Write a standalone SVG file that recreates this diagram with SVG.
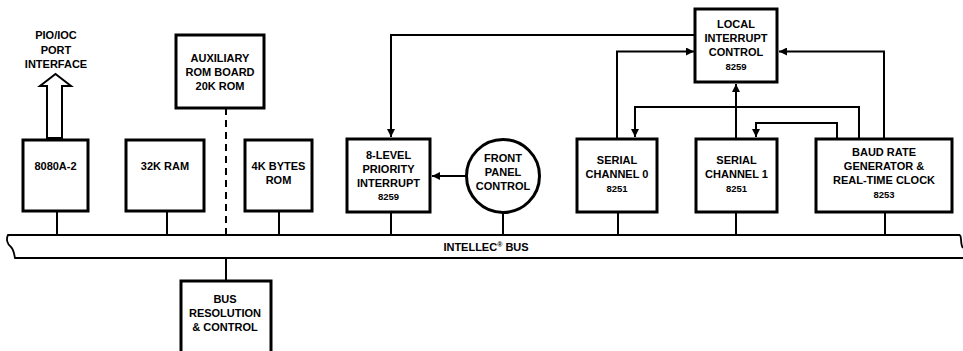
<svg xmlns="http://www.w3.org/2000/svg" width="963" height="351" viewBox="0 0 963 351">
<defs>
<style>
.box{fill:#fff;stroke:#000;stroke-width:3}
.ln{fill:none;stroke:#000;stroke-width:2}
.bus{fill:none;stroke:#000;stroke-width:1.8}
.t{font-family:"Liberation Sans",Arial,sans-serif;font-weight:bold;font-size:11px;text-anchor:middle;fill:#000}
.n{font-size:9.5px}
</style>
<marker id="ah" viewBox="0 0 10 10" refX="10" refY="5" markerWidth="4" markerHeight="4" orient="auto" markerUnits="strokeWidth">
<path d="M0,0 L10,5 L0,10 z" fill="#000"/>
</marker>
</defs>
<rect width="963" height="351" fill="#fff"/>

<g id="bus">
<path class="bus" d="M960,235 H8 C6,239 7,244 11,247 C14,250 14,254 15,258 H963"/>
<path class="bus" d="M960,235 C962,238 960,244 963,248"/>
<text class="t" x="486" y="251">INTELLEC<tspan font-size="7" dy="-4">®</tspan><tspan dy="4"> BUS</tspan></text>
</g>

<g id="connectors">
<path class="ln" d="M695,35 H391 V137" marker-end="url(#ah)"/>
<path class="ln" d="M467,176 H432" marker-end="url(#ah)"/>
<path class="ln" d="M617,139 V51.5 H694" marker-end="url(#ah)"/>
<path class="ln" d="M859,139 V107 H635 V137" marker-end="url(#ah)"/>
<path class="ln" d="M736,139 V84" marker-end="url(#ah)"/>
<path class="ln" d="M837,139 V123 H756 V137" marker-end="url(#ah)"/>
<path class="ln" d="M884,139 V51.5 H779" marker-end="url(#ah)"/>
<path class="ln" d="M226,108 V235" stroke-dasharray="7,5"/>
<path class="ln" d="M226,258 V281"/>
<path class="ln" d="M57,211 V235 M167,211 V235 M279,211 V235 M391,212 V235 M503,212 V235 M618,212 V235 M736,212 V235 M885,212 V235"/>
<polygon points="47,138 47,86 40,86 55.5,74 71,86 62,86 62,138" fill="#fff" stroke="#000" stroke-width="2"/>
</g>

<g id="pio-label">
<text class="t" x="56" y="39">PIO/IOC</text>
<text class="t" x="56" y="54">PORT</text>
<text class="t" x="56" y="68">INTERFACE</text>
</g>

<g id="cpu">
<rect class="box" x="23" y="140" width="65" height="71"/>
<text class="t" x="55.5" y="170">8080A-2</text>
</g>

<g id="ram">
<rect class="box" x="126" y="140" width="78" height="71"/>
<text class="t" x="165" y="170">32K RAM</text>
</g>

<g id="aux-rom">
<rect class="box" x="176" y="35" width="88" height="73"/>
<text class="t" x="220" y="62">AUXILIARY</text>
<text class="t" x="220" y="76">ROM BOARD</text>
<text class="t" x="220" y="90">20K ROM</text>
</g>

<g id="rom">
<rect class="box" x="245" y="140" width="67" height="71"/>
<text class="t" x="278.5" y="170">4K BYTES</text>
<text class="t" x="278.5" y="184">ROM</text>
</g>

<g id="bus-res">
<rect class="box" x="181" y="281" width="90" height="80"/>
<text class="t" x="225" y="303">BUS</text>
<text class="t" x="225" y="317">RESOLUTION</text>
<text class="t" x="225" y="331">&amp; CONTROL</text>
</g>

<g id="pic8">
<rect class="box" x="347" y="139" width="83" height="73"/>
<text class="t" x="388.5" y="159">8-LEVEL</text>
<text class="t" x="388.5" y="173">PRIORITY</text>
<text class="t" x="388.5" y="187">INTERRUPT</text>
<text class="t n" x="388.5" y="200">8259</text>
</g>

<g id="front-panel">
<circle class="box" cx="503" cy="176" r="36.5"/>
<text class="t" x="503" y="162">FRONT</text>
<text class="t" x="503" y="176">PANEL</text>
<text class="t" x="503" y="190">CONTROL</text>
</g>

<g id="serial0">
<rect class="box" x="577" y="139" width="80" height="73"/>
<text class="t" x="617" y="164">SERIAL</text>
<text class="t" x="617" y="178">CHANNEL 0</text>
<text class="t n" x="617" y="192">8251</text>
</g>

<g id="local-int">
<rect class="box" x="695" y="9" width="82" height="73"/>
<text class="t" x="736" y="28">LOCAL</text>
<text class="t" x="736" y="42">INTERRUPT</text>
<text class="t" x="736" y="56">CONTROL</text>
<text class="t n" x="736" y="70">8259</text>
</g>

<g id="serial1">
<rect class="box" x="696" y="139" width="81" height="73"/>
<text class="t" x="736.5" y="164">SERIAL</text>
<text class="t" x="736.5" y="178">CHANNEL 1</text>
<text class="t n" x="736.5" y="192">8251</text>
</g>

<g id="baud">
<rect class="box" x="816" y="139" width="136" height="73"/>
<text class="t" x="884" y="156">BAUD RATE</text>
<text class="t" x="884" y="170">GENERATOR &amp;</text>
<text class="t" x="884" y="184">REAL-TIME CLOCK</text>
<text class="t n" x="884" y="198">8253</text>
</g>
</svg>
